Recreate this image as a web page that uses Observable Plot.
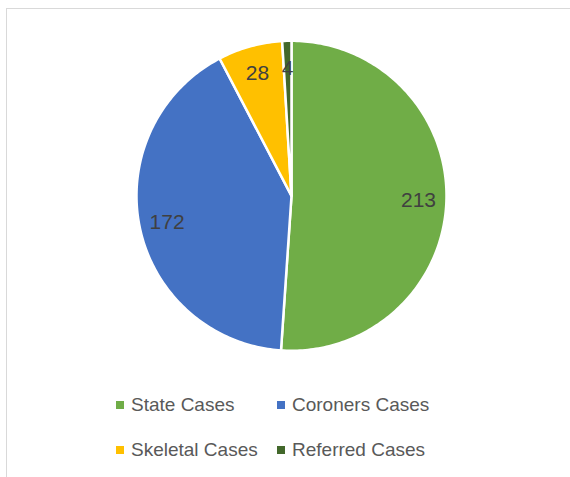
<!DOCTYPE html>
<html>
<head>
<meta charset="utf-8">
<script src="https://cdn.jsdelivr.net/npm/d3@7"></script>
<script src="https://cdn.jsdelivr.net/npm/@observablehq/plot@0.6"></script>
<style>
  html, body { margin: 0; padding: 0; background: #fff; overflow: hidden; width: 570px; height: 477px; }
  body { position: relative; font-family: "Liberation Sans", Arial, sans-serif; }
  #frame { position: absolute; left: 6px; top: 8px; width: 620px; height: 520px; border: 1.5px solid #d9d9d9; box-sizing: border-box; }
  #chart { position: absolute; left: 0; top: 0; }
  #legend { position: absolute; left: 116px; top: 392px; display: grid; grid-template-columns: 161px auto; grid-auto-rows: 44.5px; }
  .item { display: flex; align-items: center; height: 26px; font-size: 19px; color: #595959; line-height: 26px; white-space: nowrap; }
  .sw { width: 8px; height: 8px; margin-right: 7px; flex: none; }
</style>
</head>
<body>
<div id="frame"></div>
<div id="chart"></div>
<div id="legend"></div>
<script>
const names = ["State Cases", "Coroners Cases", "Skeletal Cases", "Referred Cases"];
const values = [213, 172, 28, 4];
const colors = ["#70AD47", "#4472C4", "#FFC000", "#43682B"];

const arcs = d3.pie().sort(null).value(d => d)(values);

// polygon points for each slice (unit circle, angle clockwise from 12 o'clock)
const slicePoints = [];
arcs.forEach((a, i) => {
  slicePoints.push({name: names[i], x: 0, y: 0});
  const n = Math.max(2, Math.ceil((a.endAngle - a.startAngle) / (Math.PI / 180)));
  for (let k = 0; k <= n; k++) {
    const t = a.startAngle + (a.endAngle - a.startAngle) * k / n;
    slicePoints.push({name: names[i], x: Math.sin(t), y: Math.cos(t)});
  }
});

const labelR = 0.82;
const labels = arcs.map((a, i) => {
  const m = (a.startAngle + a.endAngle) / 2;
  return {name: names[i], value: values[i], x: labelR * Math.sin(m), y: labelR * Math.cos(m)};
});

const plot = Plot.plot({
  width: 570,
  height: 380,
  margin: 0,
  style: {fontFamily: '"Liberation Sans", Arial, sans-serif', background: "transparent"},
  x: {domain: [-1, 1], range: [136, 446], axis: null},
  y: {domain: [-1, 1], range: [350.3, 40.3], axis: null},
  color: {domain: names, range: colors},
  marks: [
    Plot.line(slicePoints, {x: "x", y: "y", z: "name", fill: "name", stroke: "white", strokeWidth: 2.5, strokeLinejoin: "round", curve: "linear-closed"}),
    Plot.text(labels, {x: "x", y: "y", text: d => String(d.value), fontSize: 21, fill: "#404040"})
  ]
});
document.getElementById("chart").appendChild(plot);

const legend = document.getElementById("legend");
names.forEach((n, i) => {
  const it = document.createElement("div");
  it.className = "item";
  const sw = document.createElement("span");
  sw.className = "sw";
  sw.style.background = colors[i];
  it.appendChild(sw);
  it.appendChild(document.createTextNode(n));
  legend.appendChild(it);
});
</script>
</body>
</html>
